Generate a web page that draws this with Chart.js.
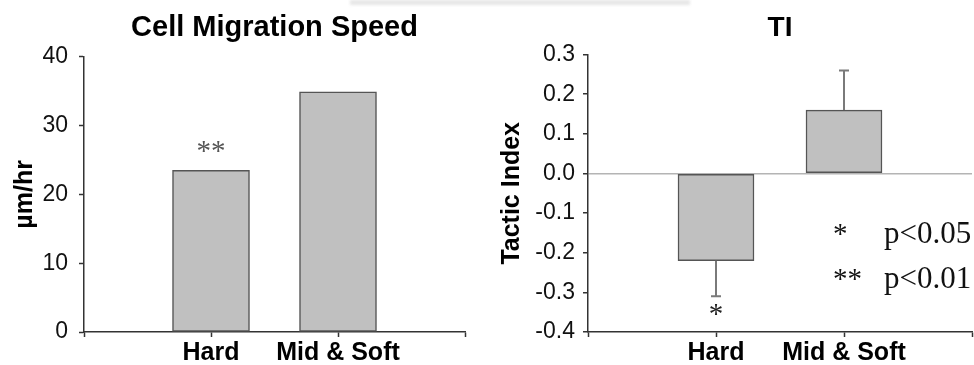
<!DOCTYPE html>
<html>
<head>
<meta charset="utf-8">
<script src="https://cdn.jsdelivr.net/npm/chart.js@4.4.1/dist/chart.umd.min.js"></script>
<style>
  html, body { margin: 0; padding: 0; background: #fff; width: 974px; height: 365px; overflow: hidden; }
  .panel { position: absolute; top: 0; width: 487px; height: 365px; }
  #speedPanel { left: 0; }
  #tiPanel { left: 487px; }
  .smudge { position: absolute; left: 350px; top: 0; width: 340px; height: 5px; background: #e6e6e6; filter: blur(1.5px); }
</style>
</head>
<body>
<div class="smudge"></div>
<div class="panel" id="speedPanel"><canvas id="speed" width="487" height="365"></canvas></div>
<div class="panel" id="tiPanel"><canvas id="ti" width="487" height="365"></canvas></div>
<script>
// Groups compared in both panels
const categories = ['Hard', 'Mid & Soft'];

// Cell migration speed (µm/hr)
const speedValues = [23.5, 34.9];
const speedMarks = ['**', ''];
const speedTicks = [0, 10, 20, 30, 40];

// Tactic index with one-sided error bars
const tiValues = [-0.22, 0.16];
const tiErrors = [0.09, 0.10];
const tiMarks = ['*', ''];
const tiTicks = [-0.4, -0.3, -0.2, -0.1, 0.0, 0.1, 0.2, 0.3];

// Significance key
const sigKey = [['*', 'p<0.05'], ['**', 'p<0.01']];

const SANS = '"Liberation Sans", Arial, sans-serif';
const SERIF = '"Liberation Serif", "Times New Roman", serif';
const AXIS = '#333';

// Empty slots at both ends so the groups sit on the inner tick marks
const paddedLabels = ['', ...categories, ''];
const pad = arr => [null, ...arr, null];

// Draws error bars, significance asterisks and the p-value key
const marksPlugin = {
  id: 'marks',
  afterDatasetsDraw(chart, args, opts) {
    const ctx = chart.ctx;
    const xs = chart.scales.x, ys = chart.scales.y;
    const values = opts.values || [];
    const errors = opts.errors || [];
    const marks = opts.marks || [];
    ctx.save();
    values.forEach((v, i) => {
      const x = xs.getPixelForValue(i + 1);
      const dir = v < 0 ? -1 : 1;
      const e = errors[i] || 0;
      const end = v + dir * e;
      if (e) {
        const y0 = ys.getPixelForValue(v);
        const y1 = ys.getPixelForValue(end);
        ctx.strokeStyle = '#7a7a7a';
        ctx.lineWidth = 2;
        ctx.beginPath();
        ctx.moveTo(x, y0);
        ctx.lineTo(x, y1);
        ctx.moveTo(x - 5, y1);
        ctx.lineTo(x + 5, y1);
        ctx.stroke();
      }
      if (marks[i]) {
        const yEnd = ys.getPixelForValue(end);
        ctx.fillStyle = opts.markColor || '#222';
        ctx.font = '29px ' + SERIF;
        ctx.textAlign = 'center';
        ctx.textBaseline = 'middle';
        ctx.fillText(marks[i], x, yEnd - dir * opts.markGap);
      }
    });
    if (opts.key) {
      const area = chart.chartArea;
      ctx.fillStyle = '#111';
      ctx.textBaseline = 'alphabetic';
      ctx.textAlign = 'left';
      opts.key.forEach((row, k) => {
        const base = area.top + 188 + k * 45;
        ctx.font = '29px ' + SERIF;
        ctx.fillText(row[0], area.right - 139, base);
        ctx.font = '31px ' + SERIF;
        ctx.fillText(row[1], area.right - 88, base);
      });
    }
    ctx.restore();
  }
};

function barPanel(canvasId, cfg) {
  return new Chart(document.getElementById(canvasId), {
    type: 'bar',
    data: {
      labels: paddedLabels,
      datasets: [{
        data: pad(cfg.values),
        backgroundColor: '#c0c0c0',
        borderColor: '#555',
        borderWidth: 1.5,
        borderSkipped: false,
        barThickness: cfg.barWidth
      }]
    },
    plugins: [marksPlugin],
    options: {
      responsive: false,
      animation: false,
      layout: { padding: { left: 0, right: cfg.rightPad, top: 0, bottom: 0 } },
      plugins: {
        legend: { display: false },
        tooltip: { enabled: false },
        title: {
          display: true,
          fullSize: false,
          text: cfg.title,
          color: '#000',
          font: { family: SANS, size: cfg.titleSize, weight: 'bold' },
          padding: cfg.titlePad
        },
        marks: cfg.marks
      },
      scales: {
        x: {
          offset: false,
          grid: { offset: false, drawOnChartArea: false, tickLength: 5, tickColor: AXIS, tickWidth: 1.5 },
          border: { color: AXIS, width: 1.5 },
          ticks: {
            autoSkip: false, maxRotation: 0, padding: 1,
            color: '#000',
            font: { family: SANS, size: 25, weight: 'bold' }
          },
          afterFit(s) { s.height = 33; }
        },
        y: {
          min: cfg.ticks[0],
          max: cfg.ticks[cfg.ticks.length - 1],
          afterBuildTicks(s) { s.ticks = cfg.ticks.map(v => ({ value: v })); },
          grid: cfg.grid,
          border: { color: AXIS, width: 1.5 },
          ticks: {
            padding: cfg.tickPad,
            color: '#111',
            font: { family: SANS, size: 23 },
            callback: cfg.fmt
          },
          title: {
            display: true,
            text: cfg.yTitle,
            color: '#000',
            font: { family: SANS, size: 25, weight: 'bold' },
            padding: cfg.yTitlePad
          },
          afterFit(s) { s.width = cfg.axisWidth; }
        }
      }
    }
  });
}

barPanel('speed', {
  title: 'Cell Migration Speed',
  titleSize: 29,
  titlePad: { top: 11, bottom: 11 },
  values: speedValues,
  ticks: speedTicks,
  fmt: v => String(v),
  yTitle: 'µm/hr',
  yTitlePad: { top: 10, bottom: 0 },
  tickPad: 11,
  axisWidth: 84,
  rightPad: 22,
  barWidth: 77,
  grid: { drawOnChartArea: false, tickLength: 5, tickColor: AXIS, tickWidth: 1.5 },
  marks: { values: speedValues, errors: [], marks: speedMarks, markGap: 18, markColor: '#555' }
});

barPanel('ti', {
  title: 'TI',
  titleSize: 28,
  titlePad: { top: 11, bottom: 10 },
  values: tiValues,
  ticks: tiTicks,
  fmt: v => Number(v).toFixed(1),
  yTitle: 'Tactic Index',
  yTitlePad: { top: 10, bottom: 0 },
  tickPad: 8,
  axisWidth: 101,
  rightPad: 2,
  barWidth: 76,
  grid: {
    drawOnChartArea: true,
    color: c => (c.tick && Math.abs(c.tick.value) < 1e-9 ? '#b4b4b4' : 'rgba(0,0,0,0)'),
    lineWidth: 1.5,
    tickLength: 5, tickColor: AXIS, tickWidth: 1.5
  },
  marks: { values: tiValues, errors: tiErrors, marks: tiMarks, markGap: 19, markColor: '#222', key: sigKey }
});
</script>
</body>
</html>
